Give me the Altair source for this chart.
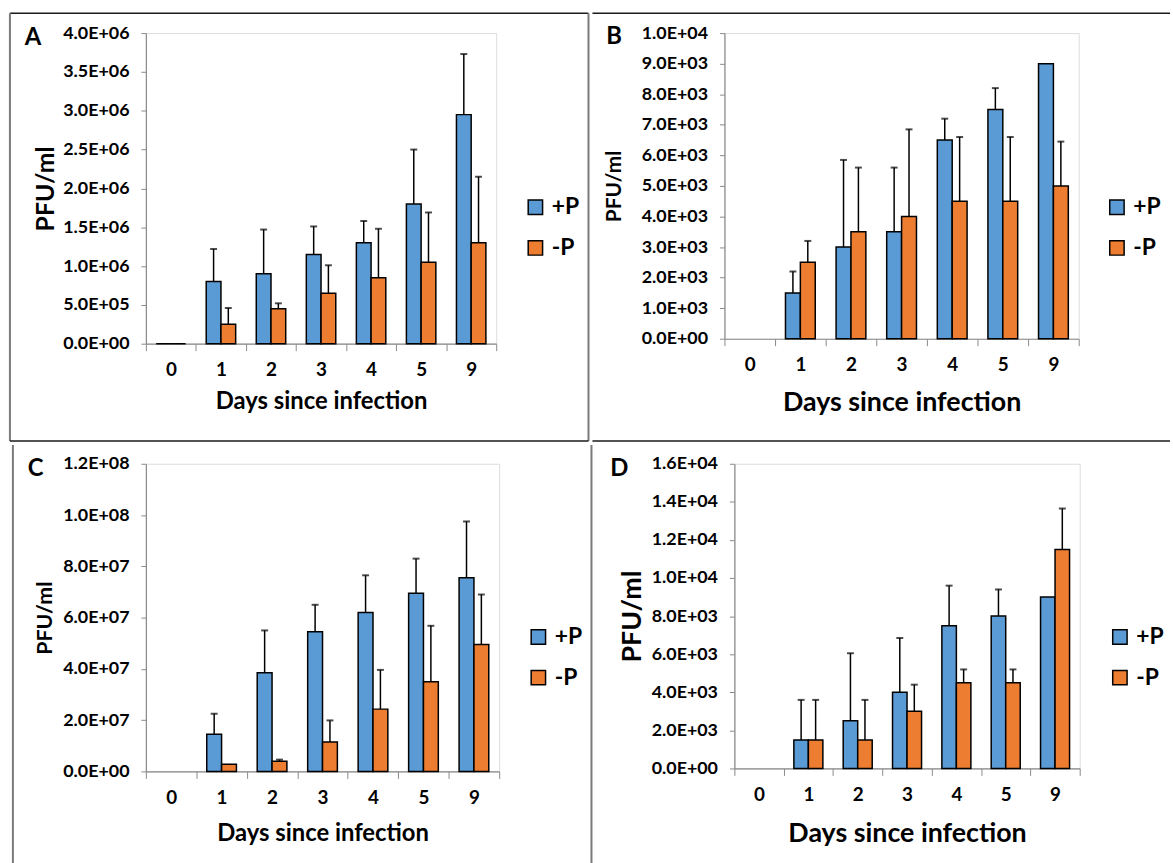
import altair as alt
import pandas as pd

days = ["0", "1", "2", "3", "4", "5", "9"]
groups = ["+P", "-P"]
colors = ["#5B9BD5", "#ED7D31"]

# Panel A
a_plus = [0, 0.80e6, 0.90e6, 1.15e6, 1.30e6, 1.80e6, 2.95e6]
a_plus_err = [None, 0.42e6, 0.57e6, 0.36e6, 0.28e6, 0.70e6, 0.78e6]
a_minus = [0, 0.25e6, 0.45e6, 0.65e6, 0.85e6, 1.05e6, 1.30e6]
a_minus_err = [None, 0.21e6, 0.07e6, 0.36e6, 0.63e6, 0.64e6, 0.85e6]
a_ticks = [0, 0.5e6, 1.0e6, 1.5e6, 2.0e6, 2.5e6, 3.0e6, 3.5e6, 4.0e6]

# Panel B
b_plus = [None, 1500, 3000, 3500, 6500, 7500, 9000]
b_plus_err = [None, 700, 2850, 2100, 700, 700, None]
b_minus = [None, 2500, 3500, 4000, 4500, 4500, 5000]
b_minus_err = [None, 700, 2100, 2850, 2100, 2100, 1450]
b_ticks = [0, 1000, 2000, 3000, 4000, 5000, 6000, 7000, 8000, 9000, 10000]

# Panel C
c_plus = [None, 1.45e7, 3.85e7, 5.45e7, 6.20e7, 6.95e7, 7.55e7]
c_plus_err = [None, 0.80e7, 1.65e7, 1.05e7, 1.45e7, 1.35e7, 2.20e7]
c_minus = [None, 0.28e7, 0.40e7, 1.15e7, 2.43e7, 3.50e7, 4.95e7]
c_minus_err = [None, None, 0.06e7, 0.84e7, 1.53e7, 2.18e7, 1.95e7]
c_ticks = [0, 2e7, 4e7, 6e7, 8e7, 1.0e8, 1.2e8]

# Panel D
d_plus = [None, 1500, 2500, 4000, 7500, 8000, 9000]
d_plus_err = [None, 2100, 3550, 2850, 2100, 1400, None]
d_minus = [None, 1500, 1500, 3000, 4500, 4500, 11500]
d_minus_err = [None, 2100, 2100, 1400, 700, 700, 2150]
d_ticks = [0, 2000, 4000, 6000, 8000, 10000, 12000, 14000, 16000]

FONT = "Lato"
GRAY = "#8a8a8a"
LABEL_EXPR = "replace(upper(format(datum.value, '.1e')), 'E+', 'E+0')"


def build_frames(plus, plus_err, minus, minus_err):
    rows, erows = [], []
    for g, vals, errs in (("+P", plus, plus_err), ("-P", minus, minus_err)):
        for d, v, e in zip(days, vals, errs):
            rows.append({"day": d, "group": g, "value": v})
            if e is not None and v is not None:
                erows.append({"day": d, "group": g, "value": v, "upper": v + e})
    return pd.DataFrame(rows), pd.DataFrame(erows)


def panel(letter, plus, plus_err, minus, minus_err, ticks, w, h,
          frame, letter_pos, ytitle_size, ytitle_x, xtitle_size, xtitle_y,
          legend_pos):
    df, edf = build_frames(plus, plus_err, minus, minus_err)
    xscale = alt.Scale(domain=days, paddingInner=0, paddingOuter=0)
    oscale = alt.Scale(domain=groups, paddingInner=0, paddingOuter=0.7)
    yscale = alt.Scale(domain=[0, ticks[-1]], nice=False, zero=True)

    xaxis = alt.Axis(
        title="Days since infection", labelAngle=0, tickBand="extent",
        tickSize=7, tickColor=GRAY, domainColor=GRAY, domainWidth=1.2,
        labelFont=FONT, labelFontSize=19, labelFontWeight="bold",
        labelColor="black", labelPadding=10,
        titleFont=FONT, titleFontSize=xtitle_size, titleFontWeight="bold",
        titleColor="black", titleX=w / 2, titleY=xtitle_y,
        titleAlign="center", titleBaseline="middle",
    )
    yaxis = alt.Axis(
        title="PFU/ml", values=ticks, labelExpr=LABEL_EXPR, grid=False,
        labelOverlap=False, labelFlush=False,
        tickSize=5, tickColor=GRAY, domainColor=GRAY, domainWidth=1.2,
        labelFont=FONT, labelFontSize=18, labelFontWeight="bold",
        labelColor="black", labelPadding=12,
        titleFont=FONT, titleFontSize=ytitle_size, titleFontWeight="bold",
        titleColor="black", titleX=ytitle_x, titleY=h / 2, titleAngle=270,
        titleAlign="center", titleBaseline="middle",
    )
    legend = alt.Legend(
        title=None, orient="none", legendX=legend_pos[0], legendY=legend_pos[1],
        symbolType="square", symbolSize=210, symbolStrokeColor="black",
        symbolStrokeWidth=1.5, symbolOpacity=1,
        labelFont=FONT, labelFontSize=23, labelFontWeight="bold",
        labelColor="black", labelOffset=5, rowPadding=17,
    )

    X = alt.X("day:N", scale=xscale, axis=xaxis, sort=days)
    XO = alt.XOffset("group:N", scale=oscale, sort=groups)

    bars = alt.Chart(df).mark_bar(stroke="black", strokeWidth=1.5).encode(
        x=X, xOffset=XO,
        y=alt.Y("value:Q", scale=yscale, axis=yaxis),
        color=alt.Color("group:N", scale=alt.Scale(domain=groups, range=colors),
                        legend=legend),
    )
    errs = alt.Chart(edf).mark_rule(color="black", strokeWidth=1.5).encode(
        x=X, xOffset=XO,
        y=alt.Y("value:Q", scale=yscale, axis=yaxis),
        y2="upper:Q",
    )
    caps = alt.Chart(edf).mark_tick(color="black", thickness=2, size=7,
                                     orient="horizontal").encode(
        x=X, xOffset=XO,
        y=alt.Y("upper:Q", scale=yscale, axis=yaxis),
    )
    one = pd.DataFrame({"k": [0]})
    lines = []
    for (x1, x2, y1, y2, col, sw, op) in frame:
        lines.append(
            alt.Chart(one).mark_rule(color=col, strokeWidth=sw, strokeOpacity=op).encode(
                x=alt.value(x1), x2=alt.value(x2), y=alt.value(y1), y2=alt.value(y2)
            )
        )
    label = alt.Chart(one).mark_text(
        text=letter, font=FONT, fontSize=24, fontWeight="bold",
        align="left", baseline="alphabetic", color="black",
    ).encode(x=alt.value(letter_pos[0]), y=alt.value(letter_pos[1]))

    return alt.layer(*lines, bars, errs, caps, label).properties(width=w, height=h)


DARK = "#1a1a1a"
MID = "#7a7a7a"

# frames: (x1, x2, y1, y2, color, width, opacity) relative to plot origin
A = panel("A", a_plus, a_plus_err, a_minus, a_minus_err, a_ticks, 353, 313,
          [(-137, 446, -20, -20, DARK, 1.5, 1),
           (-137, -137, -20, 411, MID, 2, 1),
           (446, 446, -20, 411, MID, 2, 1),
           (-137, 446, 411, 411, DARK, 1.5, 1)],
          (-122, 12), 25, -101, 24, 58, (381, 164))
B = panel("B", b_plus, b_plus_err, b_minus, b_minus_err, b_ticks, 357, 308,
          [(-133, 449, -20, -20, DARK, 1.5, 1),
           (-133, -133, -20, 411, MID, 2, 0),
           (449, 449, -20, 411, MID, 2, 0),
           (-133, 449, 411, 411, DARK, 1.5, 1)],
          (-119, 11), 21, -111, 27, 64, (384, 164))
C = panel("C", c_plus, c_plus_err, c_minus, c_minus_err, c_ticks, 356, 310,
          [(-134, 449, -19, -19, DARK, 1.5, 0),
           (-134, -134, -19, 405, MID, 2, 1),
           (449, 449, -19, 405, MID, 2, 1),
           (-134, 449, 405, 405, DARK, 1.5, 0)],
          (-119, 12), 21.5, -101, 24, 63, (384, 163))
D = panel("D", d_plus, d_plus_err, d_minus, d_minus_err, d_ticks, 348, 307,
          [(-141, 441, -19, -19, DARK, 1.5, 0),
           (-141, -141, -19, 405, MID, 2, 0),
           (441, 441, -19, 405, MID, 2, 0),
           (-141, 441, 405, 405, DARK, 1.5, 0)],
          (-125, 12), 27, -103, 27, 66, (377, 163))

res = dict(x="independent", y="independent", color="independent",
           xOffset="independent")
row1 = alt.hconcat(A, B, spacing=0).resolve_scale(**res).resolve_legend(color="independent")
row2 = alt.hconcat(C, D, spacing=0).resolve_scale(**res).resolve_legend(color="independent")

chart = (
    alt.vconcat(row1, row2, spacing=0)
    .resolve_scale(**res)
    .resolve_legend(color="independent")
    .properties(padding={"left": 8, "top": 8, "right": 0, "bottom": 0},
                background="white")
    .configure_view(stroke=None)
    .configure(font=FONT)
)

chart.save("out.html", embed_options={"renderer": "svg", "actions": False})
